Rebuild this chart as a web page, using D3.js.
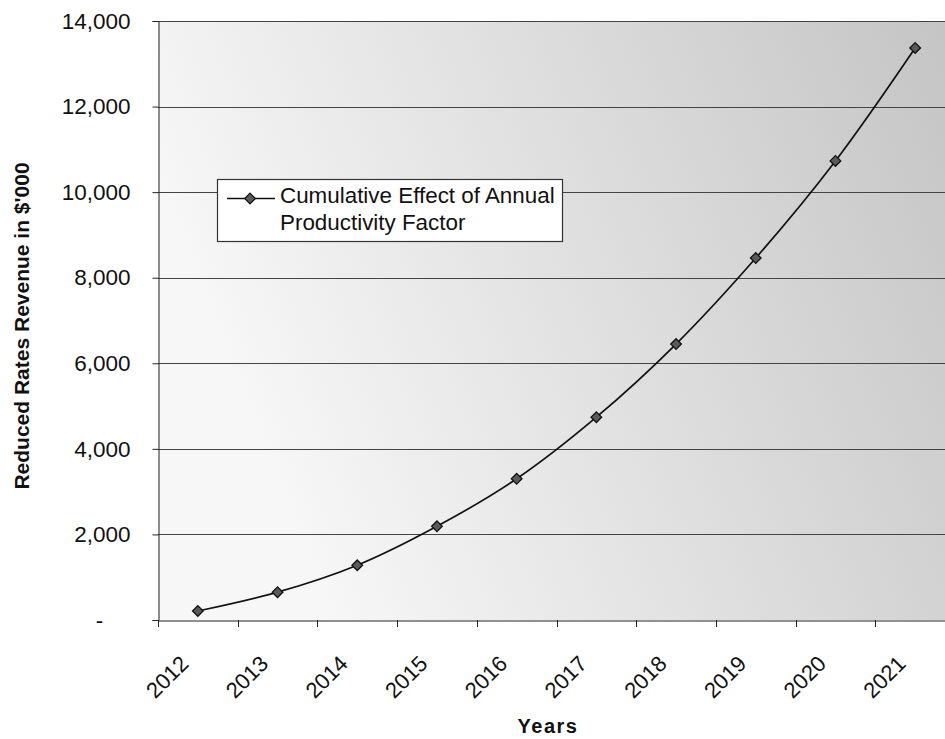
<!DOCTYPE html>
<html><head><meta charset="utf-8">
<script src="https://cdn.jsdelivr.net/npm/d3@7"></script>
<style>body{margin:0;background:#fff}svg{display:block}text{font-family:"Liberation Sans",Arial,sans-serif}</style>
</head><body><svg id="c" width="945" height="739"></svg>
<script>
const years = ["2012","2013","2014","2015","2016","2017","2018","2019","2020","2021"];
const values = [210, 650, 1280, 2190, 3300, 4740, 6450, 8460, 10730, 13370];
const yTicks = [0, 2000, 4000, 6000, 8000, 10000, 12000, 14000];
const yTickLabels = ["-", "2,000", "4,000", "6,000", "8,000", "10,000", "12,000", "14,000"];
const seriesName = ["Cumulative Effect of Annual", "Productivity Factor"];
const xTitle = "Years";
const yTitle = "Reduced Rates Revenue in $'000";

const svg = d3.select("#c");
const L = 158, T = 21, W = 797, H = 599;
const x = d3.scaleBand().domain(years).range([L, L + W]);
const y = d3.scaleLinear().domain([0, 14000]).range([T + H, T]);
const FONT = '"Liberation Sans",Arial,sans-serif';

const defs = svg.append("defs");
const g = defs.append("linearGradient").attr("id", "bg").attr("x1", "0").attr("y1", "0.3").attr("x2", "1").attr("y2", "0");
g.append("stop").attr("offset", "0").attr("stop-color", "#f7f7f7");
g.append("stop").attr("offset", "0.45").attr("stop-color", "#e0e0e0");
g.append("stop").attr("offset", "1").attr("stop-color", "#c4c4c4");

svg.append("rect").attr("x", L).attr("y", T).attr("width", W).attr("height", H).attr("fill", "url(#bg)");

// gridlines
svg.append("g").selectAll("line").data(yTicks.filter(d => d > 0)).join("line")
  .attr("x1", L).attr("x2", L + W).attr("y1", d => Math.round(y(d)) + 0.5).attr("y2", d => Math.round(y(d)) + 0.5)
  .attr("stroke", "#444").attr("stroke-width", 1);

// y axis
const ya = svg.append("g").attr("transform", `translate(${L + 0.5},0)`)
  .call(d3.axisLeft(y).tickValues(yTicks).tickSize(6).tickFormat((d, i) => yTickLabels[i]).tickPadding(22));
ya.attr("font-family", FONT).attr("font-size", 22.5);
ya.select(".domain").attr("stroke", "#222");
ya.selectAll(".tick line").attr("stroke", "#222");
ya.selectAll(".tick text").attr("fill", "#111");
ya.selectAll(".tick text").filter(d => d === 0).attr("text-anchor", "middle").attr("x", -59);

// x axis
const xa = svg.append("g").attr("transform", `translate(0,${T + H + 0.5})`)
  .call(d3.axisBottom(x).tickSize(0).tickFormat(""));
xa.select(".domain").attr("stroke", "#222");
svg.append("g").selectAll("line").data(years).join("line")
  .attr("x1", d => Math.round(x(d)) + 0.5).attr("x2", d => Math.round(x(d)) + 0.5)
  .attr("y1", T + H).attr("y2", T + H + 7).attr("stroke", "#222");
svg.append("g").selectAll("text").data(years).join("text")
  .attr("transform", d => `translate(${x(d) + x.bandwidth() / 2 - 8},${T + H + 45}) rotate(-45)`)
  .attr("text-anchor", "end").attr("font-size", 22).attr("fill", "#111").text(d => d);

// line
const line = d3.line().x((d, i) => x(years[i]) + x.bandwidth() / 2).y(d => y(d)).curve(d3.curveCatmullRom.alpha(0.5));
svg.append("path").datum(values).attr("d", line).attr("fill", "none").attr("stroke", "#111").attr("stroke-width", 1.7);

const diamond = d3.symbol().type(d3.symbolDiamond2).size(72);
svg.append("g").selectAll("path").data(values).join("path")
  .attr("transform", (d, i) => `translate(${x(years[i]) + x.bandwidth() / 2},${y(d)})`)
  .attr("d", diamond).attr("fill", "#5a5a5a").attr("stroke", "#111").attr("stroke-width", 1.3);

// legend
const lg = svg.append("g");
lg.append("rect").attr("x", 217.5).attr("y", 179.5).attr("width", 345).attr("height", 62)
  .attr("fill", "#fff").attr("stroke", "#333").attr("stroke-width", 1.2);
lg.append("line").attr("x1", 227).attr("x2", 275).attr("y1", 198.5).attr("y2", 198.5).attr("stroke", "#111").attr("stroke-width", 1.3);
lg.append("path").attr("transform", "translate(250,198.5)").attr("d", diamond).attr("fill", "#5a5a5a").attr("stroke", "#111").attr("stroke-width", 1.2);
lg.selectAll("text").data(seriesName).join("text")
  .attr("x", 280).attr("y", (d, i) => 203 + i * 27).attr("font-size", 22.4).attr("fill", "#111").text(d => d);

// titles
svg.append("text").attr("x", 548).attr("y", 733).attr("text-anchor", "middle")
  .attr("font-size", 20).attr("font-weight", "bold").attr("letter-spacing", 1.5).attr("fill", "#111").text(xTitle);
svg.append("text").attr("transform", "translate(29,326) rotate(-90)").attr("text-anchor", "middle")
  .attr("font-size", 21).attr("font-weight", "bold").attr("fill", "#111").text(yTitle);
</script></body></html>
